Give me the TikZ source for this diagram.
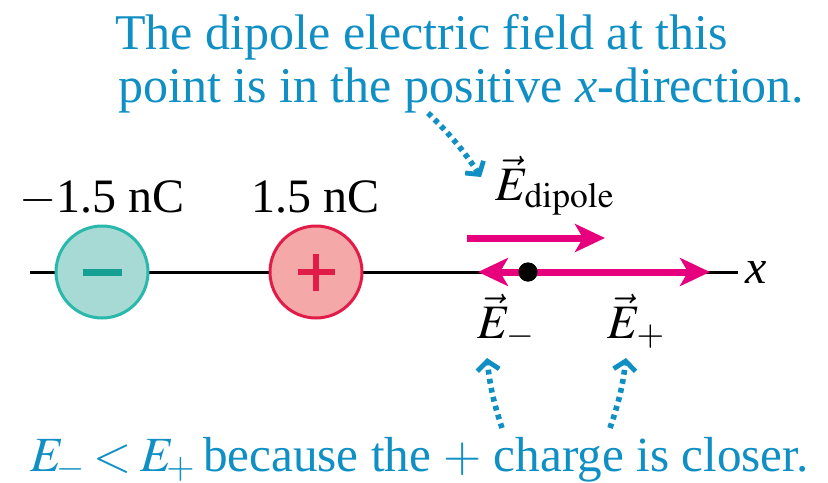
\documentclass[tikz,border=0pt]{standalone}
\usepackage{mathptmx}
\usepackage{fontspec}
\setmainfont{Liberation Serif}
\usetikzlibrary{arrows.meta}
\definecolor{cblue}{RGB}{15,143,196}
\definecolor{cmag}{RGB}{230,0,126}
\definecolor{tealedge}{RGB}{40,185,172}
\definecolor{tealfill}{RGB}{167,218,212}
\definecolor{tealsign}{RGB}{22,160,148}
\definecolor{rededge}{RGB}{226,28,72}
\definecolor{redfill}{RGB}{244,168,168}
\begin{document}
\begin{tikzpicture}[x=0.5pt,y=-0.5pt,
  txt/.style={inner sep=0pt,anchor=base west},
  bluetxt/.style={txt,text=cblue,font=\fontsize{25}{30}\selectfont},
  lbl/.style={inner sep=0pt,font=\fontsize{24}{28}\selectfont},
  charge/.style={circle,minimum size=46pt,inner sep=0pt,line width=1.5pt},
  fieldarrow/.style={cmag,line width=3.5pt,-{Stealth[length=15pt,width=14pt,inset=4pt]}},
  pointer/.style={cblue,line width=2.8pt,dash pattern=on 2.4pt off 2.2pt,
     -{Straight Barb[length=4.5pt,width=11pt,line width=2.4pt]}},
  axis/.style={black,line width=1.5pt}]
\useasboundingbox (0,0) rectangle (828,482);
% title
\node[bluetxt] (t1) at (115,49) {The dipole electric field at this};
\node[bluetxt] (t2) at (118,102) {point is in the positive \textit{x}-direction.};
% charge labels
\node[lbl,anchor=base] (qn) at (102,212) {$-$1.5 nC};
\node[lbl,anchor=base] (qp) at (316,212) {1.5 nC};
% axis
\coordinate (L) at (30,272);
\coordinate (R) at (738,272);
\draw[axis] (L) -- (R);
\node[lbl,txt] (xl) at (745,283) {\textit{x}};
% charges
\node[charge,draw=tealedge,fill=tealfill] (cn) at (102,272) {};
\node[charge,draw=rededge,fill=redfill] (cp) at (316,272) {};
\draw[tealsign,line width=3.5pt] ([xshift=-19.5*0.5pt]cn.center) -- ([xshift=19.5*0.5pt]cn.center);
\draw[rededge,line width=3pt] ([xshift=-18.5*0.5pt]cp.center) -- ([xshift=18.5*0.5pt]cp.center);
\draw[rededge,line width=3pt] ([yshift=-18.5*0.5pt]cp.center) -- ([yshift=18.5*0.5pt]cp.center);
% field point
\node[circle,fill=black,inner sep=0pt,minimum size=9.5pt] (P) at (528,272) {};
\coordinate (Em) at (478,272);
\coordinate (Ep) at (710,272);
\draw[fieldarrow] (P.center) -- (Em);
\draw[fieldarrow] (P.center) -- (Ep);
\node[circle,fill=black,inner sep=0pt,minimum size=9.5pt] at (P) {};
% dipole field arrow
\coordinate (D0) at (467,238);
\coordinate (D1) at (605,238);
\draw[fieldarrow] (D0) -- (D1);
% labels
\node[lbl,txt] (Ed) at (495,200) {$\vec{E}_{\mathrm{dipole}}$};
\node[lbl,txt] (Eml) at (477,338) {$\vec{E}_{-}$};
\node[lbl,txt] (Epl) at (607,338) {$\vec{E}_{+}$};
% bottom text
\node[bluetxt,font=\fontsize{24.6}{30}\selectfont] (b) at (30,471) {$E_{\!-}\mskip3mu{<}\mskip3mu E_{\!+}$\hspace{0.15em}because the $+$ charge is closer.};
% pointers
\coordinate (p1s) at (428,113);
\coordinate (p1e) at (481,177);
\draw[pointer] (p1s) to[bend left=6] (p1e);
\coordinate (p2s) at (502,428);
\coordinate (p2e) at (487,358);
\draw[pointer] (p2s) to[bend left=6] (p2e);
\coordinate (p3s) at (610,428);
\coordinate (p3e) at (626,358);
\draw[pointer] (p3s) to[bend right=6] (p3e);
\end{tikzpicture}
\end{document}
